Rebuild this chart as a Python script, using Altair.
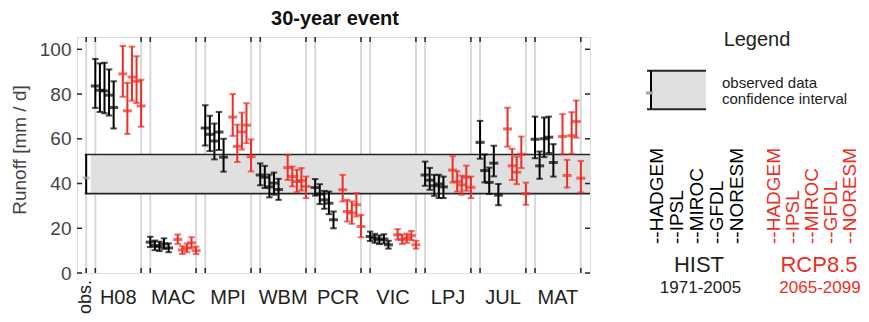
import altair as alt
import pandas as pd

# ---------------- data ----------------
groups = ["H08", "MAC", "MPI", "WBM", "PCR", "VIC", "LPJ", "JUL", "MAT"]
models = ["HADGEM", "IPSL", "MIROC", "GFDL", "NORESM"]

hist_mean = [
    [83.6, 81.7, 81.4, 79.5, 74.0],
    [13.8, 12.3, 11.8, 13.0, 11.2],
    [64.8, 62.0, 59.0, 63.0, 51.8],
    [43.8, 42.8, 38.5, 40.2, 37.3],
    [38.2, 35.3, 32.7, 31.2, 23.8],
    [16.3, 15.5, 14.8, 15.2, 12.6],
    [43.8, 41.5, 39.0, 39.8, 38.5],
    [58.4, 45.8, 40.5, 49.1, 34.8],
    [59.8, 47.9, 60.0, 60.7, 49.4],
]
hist_lo = [
    [73.8, 72.0, 71.4, 70.4, 64.6],
    [11.6, 10.2, 9.8, 10.8, 9.3],
    [57.0, 54.5, 50.8, 55.0, 45.3],
    [39.2, 38.0, 33.8, 35.0, 32.7],
    [34.6, 30.8, 28.7, 26.3, 20.0],
    [14.3, 13.5, 12.9, 13.2, 10.9],
    [39.0, 37.2, 34.5, 33.5, 33.5],
    [51.1, 40.5, 35.3, 43.2, 30.3],
    [51.3, 42.1, 51.8, 53.6, 43.1],
]
hist_hi = [
    [95.7, 93.7, 94.0, 91.0, 85.7],
    [16.2, 14.5, 14.0, 15.5, 13.2],
    [75.0, 70.3, 66.8, 72.0, 60.0],
    [49.0, 47.9, 44.0, 44.9, 42.1],
    [42.0, 39.7, 36.7, 36.4, 27.5],
    [18.5, 17.5, 16.8, 17.3, 14.4],
    [49.8, 47.0, 43.9, 43.9, 43.1],
    [68.0, 53.0, 47.1, 56.9, 39.8],
    [69.9, 54.3, 69.5, 69.9, 57.6],
]
rcp_mean = [
    [89.0, 72.5, 87.6, 85.7, 74.7],
    [15.0, 10.3, 11.2, 13.5, 10.0],
    [69.7, 56.6, 63.1, 66.1, 52.0],
    [47.1, 43.1, 40.9, 41.3, 38.7],
    [37.2, 27.5, 26.8, 30.5, 20.8],
    [17.1, 15.0, 15.5, 16.7, 12.6],
    [46.0, 40.8, 39.4, 42.8, 38.3],
    [64.4, 47.9, 45.1, 53.1, 35.4],
    [61.0, 43.6, 61.4, 67.7, 42.4],
]
rcp_lo = [
    [78.8, 62.2, 77.0, 76.0, 65.4],
    [13.0, 8.5, 9.3, 11.2, 8.5],
    [61.3, 49.6, 55.2, 58.0, 45.4],
    [41.6, 38.7, 36.1, 36.9, 33.5],
    [32.0, 23.0, 22.0, 25.3, 16.0],
    [14.9, 13.0, 13.5, 14.7, 10.9],
    [40.5, 36.4, 35.0, 36.8, 33.5],
    [56.5, 41.6, 39.7, 46.9, 30.5],
    [53.1, 38.2, 53.3, 60.5, 36.0],
]
rcp_hi = [
    [101.5, 85.0, 101.2, 96.9, 86.4],
    [17.2, 12.0, 13.2, 16.0, 11.8],
    [80.0, 66.3, 71.7, 75.9, 59.7],
    [52.8, 47.6, 46.1, 46.9, 43.1],
    [43.9, 32.7, 32.0, 35.7, 26.0],
    [19.6, 17.2, 17.6, 18.8, 14.4],
    [52.2, 45.5, 43.5, 48.0, 43.1],
    [73.9, 55.5, 52.0, 61.0, 40.4],
    [71.0, 50.6, 71.9, 77.1, 50.1],
]
obs_mean, obs_lo, obs_hi = 42.5, 35.5, 53.0
y_ticks = [0, 20, 40, 60, 80, 100]

# ---------------- layout / style ----------------
W, H = 513, 236
PAD = {"left": 69, "top": 29, "right": 271, "bottom": 41}
XMIN, XMAX = -2, 110
YMAX = 105.5
BLACK, RED = "#000000", "#ee2e24"
FRAME, TXT, GRAYTXT = "#262626", "#222222", "#444444"
FONT = "Liberation Sans"

rows = []
for g in range(len(groups)):
    start = 2 + 12 * g
    for m in range(len(models)):
        rows.append(dict(x=start + m, mean=hist_mean[g][m], lo=hist_lo[g][m],
                         hi=hist_hi[g][m], scen="HIST"))
    for m in range(len(models)):
        rows.append(dict(x=start + 6 + m, mean=rcp_mean[g][m], lo=rcp_lo[g][m],
                         hi=rcp_hi[g][m], scen="RCP8.5"))
df = pd.DataFrame(rows)

bounds = [0]
for g in range(len(groups)):
    bounds += [2 + 12 * g, 12 + 12 * g]
bdf = pd.DataFrame({"b": bounds})
gdf = pd.DataFrame({"cx": [7 + 12 * g for g in range(len(groups))], "name": groups})
obs_df = pd.DataFrame({"x": [0], "mean": [obs_mean], "lo": [obs_lo], "hi": [obs_hi]})
band_df = pd.DataFrame({"x0": [1], "xl": [-0.3], "x1": [XMAX], "lo": [obs_lo], "hi": [obs_hi]})
tick_df = pd.DataFrame({"v": y_ticks})

xs = alt.Scale(domain=[XMIN, XMAX], nice=False, zero=False)
ys = alt.Scale(domain=[0, YMAX], nice=False, zero=False)
yaxis = alt.Axis(values=y_ticks, ticks=False, domain=False, grid=False, labelFontSize=19,
                 labelColor=GRAYTXT, labelPadding=6, title=None, labelFont=FONT)
color = alt.Color("scen:N", scale=alt.Scale(domain=["HIST", "RCP8.5"], range=[BLACK, RED]),
                  legend=None)


def X(f):
    return alt.X(f, type="quantitative", scale=xs, axis=None)


def Y(f):
    return alt.Y(f, type="quantitative", scale=ys, axis=yaxis)


one = pd.DataFrame({"k": [0]})


def ann(text, x, y, **kw):
    return alt.Chart(pd.DataFrame({"t": [text]})).mark_text(font=FONT, **kw).encode(
        text="t:N", x=alt.value(x), y=alt.value(y))


def hrule(x0, x1, y, **kw):
    return alt.Chart(one).mark_rule(**kw).encode(x=alt.value(x0), x2=alt.value(x1), y=alt.value(y))


def vrule(x, y0, y1, **kw):
    return alt.Chart(one).mark_rule(**kw).encode(x=alt.value(x), y=alt.value(y0), y2=alt.value(y1))


layers = []
# grey separators
layers.append(alt.Chart(bdf).mark_rule(color="#d9d9d9", strokeWidth=2).encode(
    x=X("b"), y=alt.value(0), y2=alt.value(H)))
# observed band
layers.append(alt.Chart(band_df).mark_rect(color="#e0e0e0").encode(
    x=X("x0"), x2="x1", y=Y("lo"), y2="hi"))
layers.append(alt.Chart(band_df).mark_rule(color=FRAME, strokeWidth=1.6).encode(
    x=X("xl"), x2="x1", y=Y("lo")))
layers.append(alt.Chart(band_df).mark_rule(color=FRAME, strokeWidth=1.6).encode(
    x=X("xl"), x2="x1", y=Y("hi")))
layers.append(alt.Chart(obs_df).mark_rule(color=BLACK, strokeWidth=2).encode(
    x=X("x"), y=Y("lo"), y2="hi"))
layers.append(alt.Chart(obs_df).mark_tick(orient="horizontal", color="#a6a6a6", size=7,
                                          thickness=3).encode(x=X("x"), y=Y("mean")))
# model error bars
layers.append(alt.Chart(df).mark_rule(strokeWidth=2).encode(
    x=X("x"), y=Y("lo"), y2="hi", color=color))
for f in ["lo", "hi"]:
    layers.append(alt.Chart(df).mark_tick(orient="horizontal", size=6.5, thickness=2).encode(
        x=X("x"), y=Y(f), color=color))
layers.append(alt.Chart(df).mark_tick(orient="horizontal", size=9, thickness=3).encode(
    x=X("x"), y=Y("mean"), color=color))
# inward ticks
layers.append(alt.Chart(bdf).mark_rule(color=FRAME, strokeWidth=1.5).encode(
    x=X("b"), y=alt.value(0), y2=alt.value(5)))
layers.append(alt.Chart(bdf).mark_rule(color=FRAME, strokeWidth=1.5).encode(
    x=X("b"), y=alt.value(H - 5), y2=alt.value(H)))
layers.append(alt.Chart(tick_df).mark_rule(color=FRAME, strokeWidth=1.5).encode(
    x=alt.value(0), x2=alt.value(5), y=Y("v")))
layers.append(alt.Chart(tick_df).mark_rule(color=FRAME, strokeWidth=1.5).encode(
    x=alt.value(W - 5), x2=alt.value(W), y=Y("v")))
# x labels
layers.append(alt.Chart(gdf).mark_text(font=FONT, fontSize=20, color=TXT, baseline="middle").encode(
    x=X("cx"), y=alt.value(261), text="name:N"))
layers.append(alt.Chart(pd.DataFrame({"x": [0], "t": ["obs."]})).mark_text(
    font=FONT, fontSize=18, color=TXT, angle=270, align="right", baseline="middle").encode(
    x=X("x"), y=alt.value(243), text="t:N"))
# titles
layers.append(ann("30-year event", 258, -12, fontSize=20, fontWeight="bold", color="#111111",
                  baseline="alphabetic", align="center"))
layers.append(ann("Runoff [mm / d]", -57, 113, fontSize=19, color=GRAYTXT, angle=270,
                  baseline="middle", align="center"))
# legend
layers.append(ann("Legend", 680, 3, fontSize=20, color=TXT, baseline="middle", align="center"))
layers.append(alt.Chart(one).mark_rect(color="#e0e0e0").encode(
    x=alt.value(574), x2=alt.value(629), y=alt.value(33.7), y2=alt.value(72.3)))
layers.append(hrule(570, 629, 33.7, color=FRAME, strokeWidth=2))
layers.append(hrule(570, 629, 72.3, color=FRAME, strokeWidth=2))
layers.append(vrule(574, 33.7, 72.3, color=BLACK, strokeWidth=2))
layers.append(hrule(569, 576, 56, color="#a6a6a6", strokeWidth=3))
layers.append(ann("observed data", 645, 45.5, fontSize=15, color=TXT, baseline="middle", align="left"))
layers.append(ann("confidence interval", 645, 61.8, fontSize=15, color=TXT, baseline="middle",
                  align="left"))
for i, m in enumerate(models):
    layers.append(ann("--" + m, 580 + 20 * i, 207, fontSize=19, color=BLACK, angle=270,
                      baseline="middle", align="left"))
    layers.append(ann("--" + m, 697 + 19 * i, 207, fontSize=19, color=RED, angle=270,
                      baseline="middle", align="left"))
layers.append(ann("HIST", 622, 228, fontSize=22, color=TXT, baseline="middle", align="center"))
layers.append(ann("RCP8.5", 742, 228, fontSize=22, color=RED, baseline="middle", align="center"))
layers.append(ann("1971-2005", 623.5, 251, fontSize=17, color=TXT, baseline="middle", align="center"))
layers.append(ann("2065-2099", 743, 251, fontSize=17, color=RED, baseline="middle", align="center"))

chart = alt.layer(*layers).properties(
    width=W, height=H, padding=PAD, autosize=alt.AutoSizeParams(type="none"),
    background="white",
).configure_view(stroke=FRAME, strokeWidth=1.6).configure(font=FONT)

chart.save("out.html", embed_options={"renderer": "svg", "actions": False})
